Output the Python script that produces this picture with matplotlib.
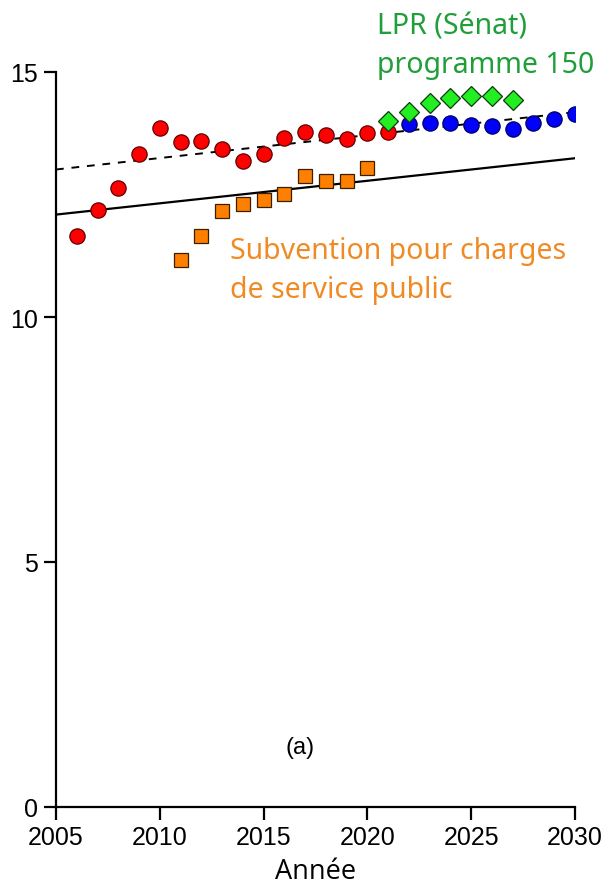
import matplotlib
matplotlib.use("Agg")
import matplotlib.pyplot as plt

# Data
years_red = [2006, 2007, 2008, 2009, 2010, 2011, 2012, 2013, 2014, 2015, 2016, 2017, 2018, 2019, 2020, 2021]
vals_red = [11.66, 12.19, 12.63, 13.33, 13.86, 13.57, 13.60, 13.43, 13.19, 13.33, 13.65, 13.77, 13.71, 13.64, 13.75, 13.77]

years_blue = [2022, 2023, 2024, 2025, 2026, 2027, 2028, 2029, 2030]
vals_blue = [13.94, 13.95, 13.95, 13.92, 13.89, 13.84, 13.95, 14.05, 14.14]

years_green = [2021, 2022, 2023, 2024, 2025, 2026, 2027]
vals_green = [13.99, 14.18, 14.37, 14.47, 14.52, 14.52, 14.43]

years_orange = [2011, 2012, 2013, 2014, 2015, 2016, 2017, 2018, 2019, 2020]
vals_orange = [11.16, 11.66, 12.16, 12.31, 12.39, 12.51, 12.88, 12.78, 12.77, 13.05]

trend_x = [2005, 2030]
trend_solid = [12.09, 13.24]
trend_dashed = [13.01, 14.18]

xticks = [2005, 2010, 2015, 2020, 2025, 2030]
yticks = [0, 5, 10, 15]

fig = plt.figure(figsize=(6.09, 8.87), dpi=100)
ax = fig.add_axes([56/609, 1-808/887, (575-56)/609, (808-73)/887])

ax.plot(trend_x, trend_solid, color="black", lw=1.6, zorder=1)
ax.plot(trend_x, trend_dashed, color="black", lw=1.4, ls=(0, (4, 4)), zorder=1)

ms = 11
ax.plot(years_red, vals_red, 'o', color="#ff0000", mec="#600000", mew=0.9, ms=ms, zorder=3)
ax.plot(years_blue, vals_blue, 'o', color="#0000ff", mec="#000060", mew=0.9, ms=ms, zorder=3)
ax.plot(years_orange, vals_orange, 's', color="#ff8000", mec="#3a2000", mew=0.9, ms=ms-0.8, zorder=3)
ax.plot(years_green, vals_green, 'D', color="#22ee22", mec="#0a3a0a", mew=0.9, ms=ms-1.3, zorder=4)

ax.set_xlim(2005, 2030)
ax.set_ylim(0, 15)
ax.set_xticks(xticks)
ax.set_yticks(yticks)
ax.spines['top'].set_visible(False)
ax.spines['right'].set_visible(False)
for s in ['left', 'bottom']:
    ax.spines[s].set_linewidth(1.6)
ax.tick_params(direction='out', length=9, width=1.6, labelsize=18, pad=4)
for lab in ax.get_xticklabels() + ax.get_yticklabels():
    lab.set_fontfamily("Liberation Sans")

ax.set_xlabel("Année", fontsize=19.5, fontfamily="Open Sans", labelpad=6)

green_txt = "#1f9e3a"
orange_txt = "#f08a24"
tf = dict(fontfamily="Noto Sans", fontsize=20.5, clip_on=False, va="center", ha="left")
ax.text(2020.46, 15.94, "LPR (Sénat)", color=green_txt, **tf)
ax.text(2020.46, 15.16, "programme 150", color=green_txt, **tf)
ax.text(2013.38, 11.35, "Subvention pour charges", color=orange_txt, **tf)
ax.text(2013.38, 10.57, "de service public", color=orange_txt, **tf)

ax.text(2016.75, 1.22, "(a)", fontsize=17, fontfamily="Liberation Sans", ha="center", va="center")

fig.savefig("out.png", dpi=100)
